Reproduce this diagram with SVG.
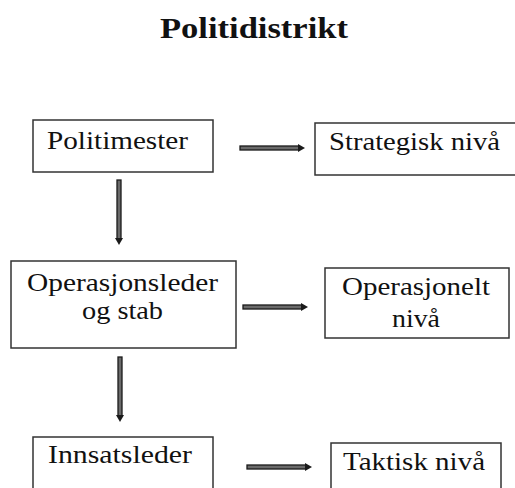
<svg xmlns="http://www.w3.org/2000/svg" xmlns:xlink="http://www.w3.org/1999/xlink" width="515" height="488" viewBox="0 0 515 488">
<style>
.box{fill:#fff;stroke:#333;stroke-width:1.5}
.lbl{font-family:"Liberation Serif","Times New Roman",serif;font-size:25px;fill:#111}
.title{font-family:"Liberation Serif","Times New Roman",serif;font-size:30px;font-weight:bold;fill:#111}
</style>
<defs>
<g id="arr">
<rect x="0" y="-2" width="59" height="4" fill="#6a6a6a" stroke="#1a1a1a" stroke-width="1.3"/>
<path d="M58,-4 L65,0 L58,4 Z" fill="#1a1a1a"/>
</g>
</defs>
<rect width="515" height="488" fill="#fff"/>
<text class="title" x="160" y="38" textLength="188" lengthAdjust="spacingAndGlyphs">Politidistrikt</text>
<g id="connectors">
<use xlink:href="#arr" href="#arr" transform="translate(240,148)"/>
<use xlink:href="#arr" href="#arr" transform="translate(243,307)"/>
<use xlink:href="#arr" href="#arr" transform="translate(247,467)"/>
<use xlink:href="#arr" href="#arr" transform="translate(119,180) rotate(90)"/>
<use xlink:href="#arr" href="#arr" transform="translate(120,357) rotate(90)"/>
</g>
<g id="politimester">
<rect class="box" x="33" y="120" width="180" height="52"/>
<text class="lbl" x="47" y="149" textLength="141" lengthAdjust="spacingAndGlyphs">Politimester</text>
</g>
<g id="strategisk">
<rect class="box" x="315" y="123" width="210" height="52"/>
<text class="lbl" x="329" y="150" textLength="171" lengthAdjust="spacingAndGlyphs">Strategisk nivå</text>
</g>
<g id="operasjonsleder">
<rect class="box" x="11" y="261" width="225" height="87"/>
<text class="lbl" x="27" y="291" textLength="191" lengthAdjust="spacingAndGlyphs">Operasjonsleder</text>
<text class="lbl" x="82" y="319" textLength="81" lengthAdjust="spacingAndGlyphs">og stab</text>
</g>
<g id="operasjonelt">
<rect class="box" x="325" y="268" width="184" height="70"/>
<text class="lbl" x="342" y="295" textLength="148" lengthAdjust="spacingAndGlyphs">Operasjonelt</text>
<text class="lbl" x="392" y="327" textLength="48" lengthAdjust="spacingAndGlyphs">nivå</text>
</g>
<g id="innsatsleder">
<rect class="box" x="33" y="437" width="180" height="60"/>
<text class="lbl" x="48" y="463" textLength="144" lengthAdjust="spacingAndGlyphs">Innsatsleder</text>
</g>
<g id="taktisk">
<rect class="box" x="331" y="443" width="170" height="55"/>
<text class="lbl" x="343" y="470" textLength="142" lengthAdjust="spacingAndGlyphs">Taktisk nivå</text>
</g>
</svg>
